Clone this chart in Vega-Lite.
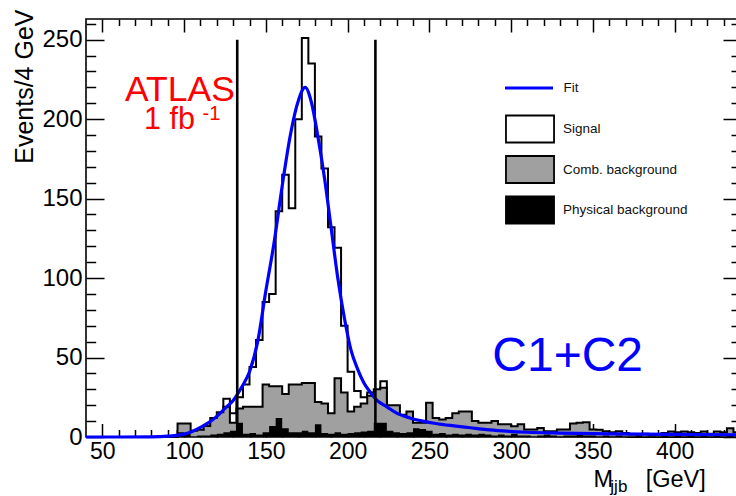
{
  "$schema": "https://vega.github.io/schema/vega-lite/v6.json",
  "width": 654,
  "height": 418,
  "autosize": {"type": "none"},
  "padding": {"left": 86, "top": 19, "right": 0, "bottom": 59},
  "background": "white",
  "config": {
    "font": "Liberation Sans",
    "view": {"stroke": "black", "strokeWidth": 1.6},
    "axis": {"grid": false, "domain": false, "tickColor": "black", "tickWidth": 1.5, "labelColor": "black", "titleColor": "black", "labelFont": "Liberation Sans", "titleFont": "Liberation Sans", "titleFontWeight": "normal", "labelOverlap": false, "labelFlush": false}
  },
  "datasets": {
    "hist": [
      {"m": 40, "sig": 0, "comb": 0, "phys": 0},
      {"m": 44, "sig": 0, "comb": 0, "phys": 0},
      {"m": 48, "sig": 0, "comb": 0, "phys": 0},
      {"m": 52, "sig": 0, "comb": 0, "phys": 0},
      {"m": 56, "sig": 0, "comb": 0, "phys": 0},
      {"m": 60, "sig": 0, "comb": 0, "phys": 0},
      {"m": 64, "sig": 0, "comb": 0, "phys": 0},
      {"m": 68, "sig": 0, "comb": 0, "phys": 0},
      {"m": 72, "sig": 0, "comb": 0, "phys": 0},
      {"m": 76, "sig": 0, "comb": 0, "phys": 0},
      {"m": 80, "sig": 0, "comb": 0, "phys": 0},
      {"m": 84, "sig": 0, "comb": 0, "phys": 0},
      {"m": 88, "sig": 0, "comb": 0, "phys": 0},
      {"m": 92, "sig": 0, "comb": 0, "phys": 0},
      {"m": 96, "sig": 4, "comb": 8.5, "phys": 3},
      {"m": 100, "sig": 3, "comb": 8.5, "phys": 2},
      {"m": 104, "sig": 2, "comb": 4, "phys": 0.5},
      {"m": 108, "sig": 2, "comb": 4.5, "phys": 1},
      {"m": 112, "sig": 5, "comb": 7, "phys": 1},
      {"m": 116, "sig": 10, "comb": 12, "phys": 1.5},
      {"m": 120, "sig": 13, "comb": 15.5, "phys": 2},
      {"m": 124, "sig": 24, "comb": 19, "phys": 3},
      {"m": 128, "sig": 15, "comb": 9, "phys": 4},
      {"m": 132, "sig": 25, "comb": 18, "phys": 9},
      {"m": 136, "sig": 33, "comb": 19, "phys": 2},
      {"m": 140, "sig": 44, "comb": 19, "phys": 2.5},
      {"m": 144, "sig": 61, "comb": 19, "phys": 1.5},
      {"m": 148, "sig": 85, "comb": 33, "phys": 3},
      {"m": 152, "sig": 90, "comb": 32, "phys": 7},
      {"m": 156, "sig": 142, "comb": 32, "phys": 12},
      {"m": 160, "sig": 165, "comb": 27, "phys": 5.5},
      {"m": 164, "sig": 144, "comb": 33, "phys": 3},
      {"m": 168, "sig": 200, "comb": 33, "phys": 3},
      {"m": 172, "sig": 251, "comb": 34, "phys": 4},
      {"m": 176, "sig": 235, "comb": 34, "phys": 3},
      {"m": 180, "sig": 189, "comb": 22, "phys": 8},
      {"m": 184, "sig": 169, "comb": 21, "phys": 2.5},
      {"m": 188, "sig": 132, "comb": 15, "phys": 2},
      {"m": 192, "sig": 119, "comb": 37, "phys": 3},
      {"m": 196, "sig": 70, "comb": 28, "phys": 2},
      {"m": 200, "sig": 41, "comb": 16, "phys": 2.5},
      {"m": 204, "sig": 29, "comb": 19, "phys": 3},
      {"m": 208, "sig": 25, "comb": 21, "phys": 3.5},
      {"m": 212, "sig": 28, "comb": 26, "phys": 4},
      {"m": 216, "sig": 25, "comb": 30, "phys": 9},
      {"m": 220, "sig": 35, "comb": 31, "phys": 9},
      {"m": 224, "sig": 15, "comb": 20, "phys": 4},
      {"m": 228, "sig": 10, "comb": 20, "phys": 3},
      {"m": 232, "sig": 8, "comb": 14, "phys": 2.5},
      {"m": 236, "sig": 6, "comb": 16, "phys": 3},
      {"m": 240, "sig": 5, "comb": 9, "phys": 5.5},
      {"m": 244, "sig": 4, "comb": 9, "phys": 5},
      {"m": 248, "sig": 4, "comb": 21.5, "phys": 4},
      {"m": 252, "sig": 3, "comb": 12, "phys": 2},
      {"m": 256, "sig": 3, "comb": 11, "phys": 2.5},
      {"m": 260, "sig": 3, "comb": 12, "phys": 1.5},
      {"m": 264, "sig": 2, "comb": 15, "phys": 2},
      {"m": 268, "sig": 2, "comb": 16, "phys": 1.5},
      {"m": 272, "sig": 2, "comb": 16, "phys": 2},
      {"m": 276, "sig": 2, "comb": 10, "phys": 1.5},
      {"m": 280, "sig": 1.5, "comb": 9, "phys": 2},
      {"m": 284, "sig": 1.5, "comb": 9, "phys": 1.5},
      {"m": 288, "sig": 1.5, "comb": 10, "phys": 1},
      {"m": 292, "sig": 1, "comb": 8, "phys": 1.5},
      {"m": 296, "sig": 1, "comb": 8, "phys": 1},
      {"m": 300, "sig": 1, "comb": 6.8, "phys": 2},
      {"m": 304, "sig": 1, "comb": 8, "phys": 1},
      {"m": 308, "sig": 1, "comb": 4.7, "phys": 1},
      {"m": 312, "sig": 1, "comb": 4.7, "phys": 0.5},
      {"m": 316, "sig": 0.5, "comb": 5.7, "phys": 1},
      {"m": 320, "sig": 0.5, "comb": 3.6, "phys": 1.5},
      {"m": 324, "sig": 0.5, "comb": 3.6, "phys": 1},
      {"m": 328, "sig": 0.5, "comb": 4.7, "phys": 0.5},
      {"m": 332, "sig": 0.5, "comb": 4.7, "phys": 1},
      {"m": 336, "sig": 0.5, "comb": 8.5, "phys": 1},
      {"m": 340, "sig": 0.5, "comb": 9, "phys": 1.5},
      {"m": 344, "sig": 0.5, "comb": 9.3, "phys": 1},
      {"m": 348, "sig": 0.5, "comb": 4.7, "phys": 1},
      {"m": 352, "sig": 0.5, "comb": 4.5, "phys": 0.5},
      {"m": 356, "sig": 0.5, "comb": 3.6, "phys": 1},
      {"m": 360, "sig": 0.5, "comb": 3, "phys": 0.5},
      {"m": 364, "sig": 0.5, "comb": 3.6, "phys": 1},
      {"m": 368, "sig": 0.5, "comb": 2.5, "phys": 0.5},
      {"m": 372, "sig": 0, "comb": 1.5, "phys": 0.5},
      {"m": 376, "sig": 0, "comb": 1.5, "phys": 1},
      {"m": 380, "sig": 0, "comb": 2, "phys": 0.5},
      {"m": 384, "sig": 0, "comb": 1, "phys": 0.5},
      {"m": 388, "sig": 0, "comb": 1.5, "phys": 0.5},
      {"m": 392, "sig": 0, "comb": 2.5, "phys": 1},
      {"m": 396, "sig": 0, "comb": 3.5, "phys": 0.5},
      {"m": 400, "sig": 0, "comb": 3, "phys": 1},
      {"m": 404, "sig": 0, "comb": 3.5, "phys": 0.5},
      {"m": 408, "sig": 0, "comb": 3, "phys": 1},
      {"m": 412, "sig": 0, "comb": 2.5, "phys": 0.5},
      {"m": 416, "sig": 0, "comb": 3.5, "phys": 1},
      {"m": 420, "sig": 0, "comb": 2, "phys": 0.5},
      {"m": 424, "sig": 0, "comb": 3.5, "phys": 1},
      {"m": 428, "sig": 0, "comb": 3, "phys": 0.5},
      {"m": 432, "sig": 0, "comb": 5.5, "phys": 1},
      {"m": 436, "sig": 0, "comb": 3, "phys": 0.5},
      {"m": 440, "sig": 0, "comb": 3, "phys": 0.5}
    ],
    "fit": [
      {"m": 40, "f": 0}, {"m": 60, "f": 0}, {"m": 80, "f": 0.1}, {"m": 90, "f": 0.5},
      {"m": 100, "f": 1.8}, {"m": 105, "f": 3.5}, {"m": 110, "f": 6}, {"m": 115, "f": 9},
      {"m": 120, "f": 13}, {"m": 125, "f": 18}, {"m": 130, "f": 23}, {"m": 135, "f": 31},
      {"m": 140, "f": 41}, {"m": 145, "f": 60}, {"m": 150, "f": 92}, {"m": 155, "f": 122},
      {"m": 160, "f": 158}, {"m": 165, "f": 190}, {"m": 170, "f": 212}, {"m": 174, "f": 220},
      {"m": 178, "f": 210}, {"m": 182, "f": 188}, {"m": 186, "f": 162}, {"m": 190, "f": 131},
      {"m": 194, "f": 100}, {"m": 198, "f": 75}, {"m": 202, "f": 55}, {"m": 206, "f": 43},
      {"m": 210, "f": 34}, {"m": 214, "f": 28}, {"m": 218, "f": 23}, {"m": 224, "f": 19},
      {"m": 230, "f": 15}, {"m": 238, "f": 12}, {"m": 246, "f": 10}, {"m": 254, "f": 8.5},
      {"m": 265, "f": 7}, {"m": 275, "f": 5.8}, {"m": 285, "f": 4.6}, {"m": 295, "f": 3.8},
      {"m": 310, "f": 3}, {"m": 330, "f": 2.5}, {"m": 360, "f": 2}, {"m": 400, "f": 1.6},
      {"m": 440, "f": 1.4}
    ],
    "cuts": [{"m": 132.5}, {"m": 217}]
  },
  "layer": [
    {
      "data": {"name": "hist"},
      "mark": {"type": "area", "interpolate": "step-after", "opacity": 1},
      "encoding": {
        "x": {"field": "m", "type": "quantitative", "scale": {"domain": [40, 440], "nice": false, "zero": false},
          "axis": {"orient": "bottom", "values": [50, 100, 150, 200, 250, 300, 350, 400], "tickSize": -13.5, "labelFontSize": 23, "labelPadding": 16.5,
            "title": "M\u00a0\u00a0\u00a0\u00a0\u00a0[GeV]", "titleFontSize": 23.5, "titleX": 507, "titleY": 49.5, "titleAlign": "left", "titleBaseline": "alphabetic"}},
        "y": {"field": "sig", "type": "quantitative", "scale": {"domain": [0, 263], "nice": false},
          "axis": {"orient": "left", "values": [0, 50, 100, 150, 200, 250], "tickSize": -18, "labelFontSize": 24, "labelPadding": 22,
            "title": "Events/4 GeV", "titleFontSize": 25, "titleAngle": -90, "titleX": -62, "titleY": -10, "titleAlign": "right", "titleBaseline": "middle"}},
        "fill": {"datum": "Signal", "type": "nominal",
          "scale": {"domain": ["Signal", "Comb. background", "Physical background"], "range": ["#ffffff", "#a0a0a0", "#000000"]},
          "legend": {"orient": "none", "legendX": 429.5, "legendY": 95.5, "title": null, "padding": 0,
            "symbolType": "M-1.78,-1H1.78V1H-1.78Z", "symbolSize": 729, "symbolStrokeWidth": 1.8, "symbolStrokeColor": "#000000", "symbolOpacity": 1,
            "rowPadding": 5.5, "labelOffset": 18.5,
            "labelFontSize": 13.5, "labelFont": "Liberation Sans", "labelColor": "#111"}}
      }
    },
    {
      "data": {"name": "hist"},
      "mark": {"type": "line", "interpolate": "step-after", "color": "black", "strokeWidth": 2},
      "encoding": {
        "x": {"field": "m", "type": "quantitative", "scale": {"domain": [40, 440], "nice": false, "zero": false},
          "axis": {"orient": "bottom", "values": [60, 70, 80, 90, 110, 120, 130, 140, 160, 170, 180, 190, 210, 220, 230, 240, 260, 270, 280, 290, 310, 320, 330, 340, 360, 370, 380, 390, 410, 420, 430], "tickSize": -7.5, "labels": false, "title": null}},
        "y": {"field": "sig", "type": "quantitative", "scale": {"domain": [0, 263], "nice": false},
          "axis": {"orient": "left", "values": [10, 20, 30, 40, 60, 70, 80, 90, 110, 120, 130, 140, 160, 170, 180, 190, 210, 220, 230, 240, 260], "tickSize": -9.7, "labels": false, "title": null}}
      }
    },
    {
      "data": {"name": "hist"},
      "mark": {"type": "area", "interpolate": "step-after", "opacity": 1},
      "encoding": {
        "x": {"field": "m", "type": "quantitative", "scale": {"domain": [40, 440], "nice": false, "zero": false},
          "axis": {"orient": "top", "values": [50, 100, 150, 200, 250, 300, 350, 400], "tickSize": -13, "labels": false, "title": null}},
        "y": {"field": "comb", "type": "quantitative", "scale": {"domain": [0, 263], "nice": false},
          "axis": {"orient": "right", "values": [0, 50, 100, 150, 200, 250], "tickSize": -17, "labels": false, "title": null}},
        "fill": {"datum": "Comb. background", "type": "nominal"}
      }
    },
    {
      "data": {"name": "hist"},
      "mark": {"type": "line", "interpolate": "step-after", "color": "black", "strokeWidth": 2},
      "encoding": {
        "x": {"field": "m", "type": "quantitative", "scale": {"domain": [40, 440], "nice": false, "zero": false},
          "axis": {"orient": "top", "values": [60, 70, 80, 90, 110, 120, 130, 140, 160, 170, 180, 190, 210, 220, 230, 240, 260, 270, 280, 290, 310, 320, 330, 340, 360, 370, 380, 390, 410, 420, 430], "tickSize": -6.5, "labels": false, "title": null}},
        "y": {"field": "comb", "type": "quantitative", "scale": {"domain": [0, 263], "nice": false},
          "axis": {"orient": "right", "values": [10, 20, 30, 40, 60, 70, 80, 90, 110, 120, 130, 140, 160, 170, 180, 190, 210, 220, 230, 240, 260], "tickSize": -9, "labels": false, "title": null}}
      }
    },
    {
      "data": {"name": "hist"},
      "mark": {"type": "area", "interpolate": "step-after", "opacity": 1},
      "encoding": {
        "x": {"field": "m", "type": "quantitative", "scale": {"domain": [40, 440], "nice": false, "zero": false}, "axis": null},
        "y": {"field": "phys", "type": "quantitative", "scale": {"domain": [0, 263], "nice": false}, "axis": null},
        "fill": {"datum": "Physical background", "type": "nominal"}
      }
    },
    {
      "data": {"name": "fit"},
      "mark": {"type": "line", "interpolate": "monotone", "strokeWidth": 3.2},
      "encoding": {
        "x": {"field": "m", "type": "quantitative", "scale": {"domain": [40, 440], "nice": false, "zero": false}, "axis": null},
        "y": {"field": "f", "type": "quantitative", "scale": {"domain": [0, 263], "nice": false}, "axis": null},
        "stroke": {"datum": "Fit", "type": "nominal",
          "scale": {"domain": ["Fit"], "range": ["#0000ff"]},
          "legend": {"orient": "none", "legendX": 417, "legendY": 43, "title": null, "padding": 0,
            "symbolType": "stroke", "symbolSize": 2304, "symbolStrokeWidth": 3.2, "symbolOpacity": 1,
            "labelOffset": 8.5, "labelFontSize": 13.5, "labelFont": "Liberation Sans", "labelColor": "#111"}}
      }
    },
    {
      "data": {"name": "cuts"},
      "mark": {"type": "rule", "color": "black", "strokeWidth": 2.6},
      "encoding": {
        "x": {"field": "m", "type": "quantitative", "scale": {"domain": [40, 440], "nice": false, "zero": false}, "axis": null},
        "y": {"datum": 0, "type": "quantitative", "scale": {"domain": [0, 263], "nice": false}, "axis": null},
        "y2": {"datum": 250}
      }
    },
    {
      "data": {"values": [{"label": "ATLAS"}]},
      "mark": {"type": "text", "align": "left", "baseline": "alphabetic", "fontSize": 35.5, "color": "#ff0000", "font": "Liberation Sans"},
      "encoding": {
        "x": {"datum": 63.9, "type": "quantitative", "scale": {"domain": [40, 440], "nice": false, "zero": false}, "axis": null},
        "y": {"datum": 211.2, "type": "quantitative", "scale": {"domain": [0, 263], "nice": false}, "axis": null},
        "text": {"field": "label"}
      }
    },
    {
      "data": {"values": [{"label": "1 fb"}]},
      "mark": {"type": "text", "align": "left", "baseline": "alphabetic", "fontSize": 30.5, "color": "#ff0000", "font": "Liberation Sans"},
      "encoding": {
        "x": {"datum": 75.5, "type": "quantitative", "scale": {"domain": [40, 440], "nice": false, "zero": false}, "axis": null},
        "y": {"datum": 193.5, "type": "quantitative", "scale": {"domain": [0, 263], "nice": false}, "axis": null},
        "text": {"field": "label"}
      }
    },
    {
      "data": {"values": [{"label": "-1"}]},
      "mark": {"type": "text", "align": "left", "baseline": "alphabetic", "fontSize": 20, "color": "#ff0000", "font": "Liberation Sans"},
      "encoding": {
        "x": {"datum": 111.3, "type": "quantitative", "scale": {"domain": [40, 440], "nice": false, "zero": false}, "axis": null},
        "y": {"datum": 199.5, "type": "quantitative", "scale": {"domain": [0, 263], "nice": false}, "axis": null},
        "text": {"field": "label"}
      }
    },
    {
      "data": {"values": [{"label": "C1+C2"}]},
      "mark": {"type": "text", "align": "left", "baseline": "alphabetic", "fontSize": 48, "color": "#0000ff", "font": "Liberation Sans"},
      "encoding": {
        "x": {"datum": 288.5, "type": "quantitative", "scale": {"domain": [40, 440], "nice": false, "zero": false}, "axis": null},
        "y": {"datum": 41.8, "type": "quantitative", "scale": {"domain": [0, 263], "nice": false}, "axis": null},
        "text": {"field": "label"}
      }
    },
    {
      "data": {"values": [{"label": "jjb"}]},
      "mark": {"type": "text", "align": "left", "baseline": "alphabetic", "fontSize": 17, "color": "black", "font": "Liberation Sans"},
      "encoding": {
        "x": {"datum": 360.7, "type": "quantitative", "scale": {"domain": [40, 440], "nice": false, "zero": false}, "axis": null},
        "y": {"datum": -34.3, "type": "quantitative", "scale": {"domain": [0, 263], "nice": false}, "axis": null},
        "text": {"field": "label"}
      }
    }
  ],
  "resolve": {"axis": {"x": "independent", "y": "independent"}}
}
